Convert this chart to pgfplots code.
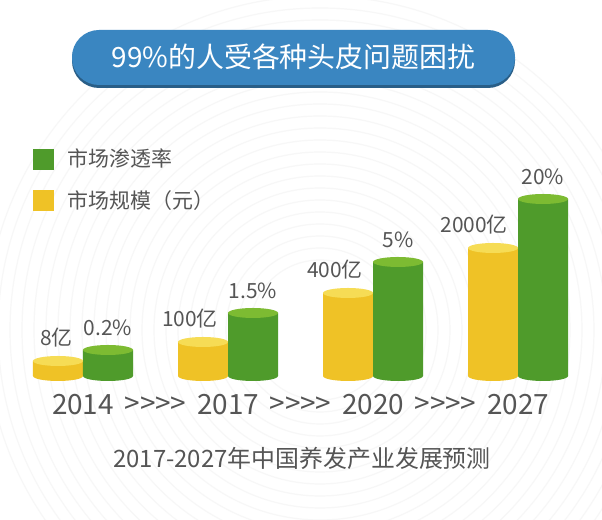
\documentclass[border=0pt]{standalone}
\usepackage{pgfplots}
\pgfplotsset{compat=1.18}
\usepackage{pgfplotstable}
\usepackage{fontspec}
\setmainfont{Noto Sans CJK SC}
\definecolor{titleblue}{HTML}{3A86C1}
\definecolor{ylw}{HTML}{EFC226}
\definecolor{ylwtop}{HTML}{F6DC55}
\definecolor{grn}{HTML}{4F9B2B}
\definecolor{grntop}{HTML}{7DBB32}
\definecolor{txt}{HTML}{555555}
\newcommand\fs[1]{\fontsize{#1}{#1}\selectfont}
\pgfdeclareplotmark{cyl}{%
  \pgfpathellipse{\pgfpointorigin}{\pgfqpoint{25bp}{0pt}}{\pgfqpoint{0pt}{5bp}}%
  \pgfusepathqfill}

% bar heights are the drawn heights of the cylinders (px); labels are the values shown
\pgfplotstableread{
x h label
0 15 8亿
1 34 100亿
2 83 400亿
3 128 2000亿
}\yellowdata
\pgfplotstableread{
x h label
0 26 0.2\%
1 63 1.5\%
2 114 5\%
3 177 20\%
}\greendata

\begin{document}
\begin{tikzpicture}[x=1bp,y=1bp]
\fill[white] (0,0) rectangle (602,520);
\begin{scope}
\clip (0,0) rectangle (602,520);
\foreach \r in {70,82,...,340} \draw[black!3, line width=1.2bp] (320,190) circle (\r);
\end{scope}
% title pill
\fill[titleblue!70!black, rounded corners=27bp] (72,432) rectangle (515,488);
\fill[titleblue, rounded corners=27bp] (72,435) rectangle (515,490);
\node[white, font=\fs{28}] at (293.5,463) {99\%的人受各种头皮问题困扰};
\node[txt, font=\fs{24}] at (302,62) {2017-2027年中国养发产业发展预测};

\begin{axis}[at={(0,0)}, anchor=south west, x=145bp, y=1bp,
  xmin=-0.5724, xmax=3.5793, ymin=-144, ymax=376,
  axis line style={draw=none}, tick style={draw=none}, ytick=\empty,
  clip=false,
  xtick={0,1,2,3}, xticklabels={2014,2017,2020,2027},
  xticklabel style={anchor=center, yshift=115bp, font=\fs{28}, text=txt},
  extra x ticks={0.5,1.5,2.5},
  extra x tick labels={{>{}>{}>{}>},{>{}>{}>{}>},{>{}>{}>{}>}},
  extra x tick style={tick label style={font=\fs{21}, text=black!30}},
  legend style={at={(0.0548,0.7173)}, anchor=north west, draw=none, fill=none,
    inner sep=0pt, row sep=18bp, font=\fs{21}, text=txt,
    /tikz/every odd column/.append style={column sep=12bp}},
  legend cell align=left,
]
\addlegendimage{legend image code/.code={\fill[grn] (0bp,-10bp) rectangle (20bp,10bp);}}
\addlegendentry{市场渗透率}
\addlegendimage{legend image code/.code={\fill[ylw] (0bp,-10bp) rectangle (20bp,10bp);}}
\addlegendentry{市场规模（元）}

% bottom ellipses
\addplot[forget plot, only marks, mark=cyl, mark options={xshift=-25bp, fill=ylw}]
  coordinates {(0,0) (1,0) (2,0) (3,0)};
\addplot[forget plot, only marks, mark=cyl, mark options={xshift=25bp, fill=grn}]
  coordinates {(0,0) (1,0) (2,0) (3,0)};
% bodies
\addplot[forget plot, ybar, bar width=50bp, bar shift=-25bp, draw=none, fill=ylw]
  table[x=x, y=h] {\yellowdata};
\addplot[forget plot, ybar, bar width=50bp, bar shift=25bp, draw=none, fill=grn]
  table[x=x, y=h] {\greendata};
% top ellipses
\addplot[forget plot, only marks, mark=cyl, mark options={xshift=-25bp, fill=ylwtop}]
  table[x=x, y=h] {\yellowdata};
\addplot[forget plot, only marks, mark=cyl, mark options={xshift=25bp, fill=grntop}]
  table[x=x, y=h] {\greendata};
% value labels
\addplot[forget plot, draw=none, mark=none, point meta=explicit symbolic,
  nodes near coords,
  every node near coord/.style={anchor=south east, xshift=-10bp, yshift=14bp,
    inner sep=0pt, font=\fs{21}, text=txt}]
  table[x=x, y=h, meta=label] {\yellowdata};
\addplot[forget plot, draw=none, mark=none, point meta=explicit symbolic,
  nodes near coords,
  every node near coord/.style={anchor=south, xshift=25bp, yshift=14bp,
    inner sep=0pt, font=\fs{21}, text=txt}]
  table[x=x, y=h, meta=label] {\greendata};
\end{axis}
\end{tikzpicture}
\end{document}
